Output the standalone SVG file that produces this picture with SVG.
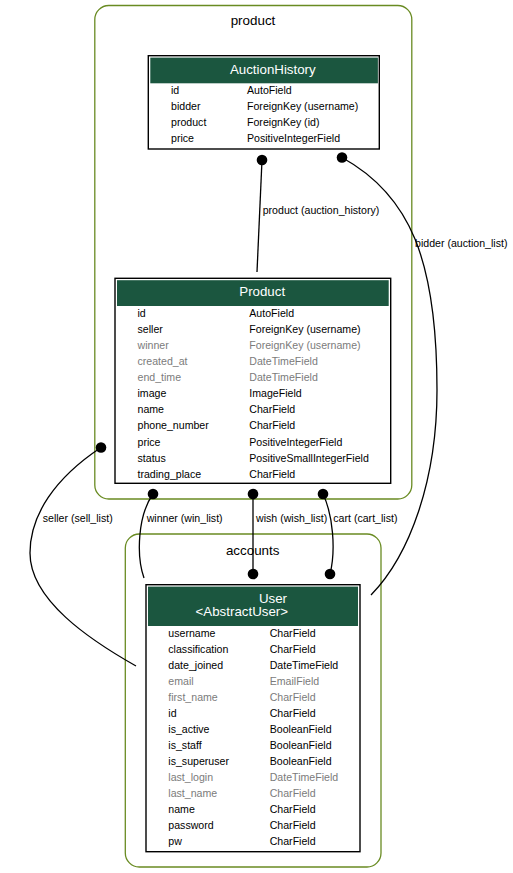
<svg xmlns="http://www.w3.org/2000/svg" width="513" height="873" viewBox="0 0 513 873">
  <style>
    text { font-family: "Liberation Sans", Arial, Helvetica, sans-serif; }
    .cluster { fill: none; stroke: #698b22; stroke-width: 1.3; }
    .clabel { font-size: 13.4px; fill: #000; text-anchor: middle; }
    .tbl { fill: #fff; stroke: #000; stroke-width: 1.4; }
    .hdr { fill: #1b563f; }
    .htxt { font-size: 13.3px; fill: #fff; text-anchor: middle; }
    .f { font-size: 10.6px; fill: #000; }
    .g { font-size: 10.6px; fill: #7b7b7b; }
    .edge { fill: none; stroke: #000; stroke-width: 1.3; }
    .lbl { font-size: 10.6px; fill: #000; }
  </style>
  <defs>
    <marker id="dot" viewBox="0 0 12 12" refX="6" refY="6" markerWidth="12" markerHeight="12" markerUnits="userSpaceOnUse">
      <circle cx="6" cy="6" r="5.3" fill="#000"/>
    </marker>
  </defs>

  <!-- app clusters -->
  <g id="cluster-product">
    <rect class="cluster" x="94.8" y="5.5" width="317" height="493.5" rx="14"/>
    <text class="clabel" x="253" y="25">product</text>
  </g>
  <g id="cluster-accounts">
    <rect class="cluster" x="125.3" y="534" width="255.7" height="333" rx="14"/>
    <text class="clabel" x="252.7" y="554.5">accounts</text>
  </g>

  <!-- AuctionHistory model -->
  <g id="node-auctionhistory">
    <rect class="tbl" x="148.3" y="55.7" width="231" height="93.3"/>
    <rect class="hdr" x="150.3" y="57.6" width="227.6" height="25.7"/>
    <text class="htxt" x="272.8" y="74">AuctionHistory</text>
    <text class="f" x="171" y="93.5">id</text><text class="f" x="247" y="93.5">AutoField</text>
    <text class="f" x="171" y="109.7">bidder</text><text class="f" x="247" y="109.7">ForeignKey (username)</text>
    <text class="f" x="171" y="125.9">product</text><text class="f" x="247" y="125.9">ForeignKey (id)</text>
    <text class="f" x="171" y="142.1">price</text><text class="f" x="247" y="142.1">PositiveIntegerField</text>
  </g>

  <!-- Product model -->
  <g id="node-product">
    <rect class="tbl" x="115" y="278.3" width="275.7" height="205"/>
    <rect class="hdr" x="117" y="280.2" width="271.7" height="25.8"/>
    <text class="htxt" x="262.2" y="296.3">Product</text>
    <text class="f" x="137.5" y="316.7">id</text><text class="f" x="249.3" y="316.7">AutoField</text>
    <text class="f" x="137.5" y="332.8">seller</text><text class="f" x="249.3" y="332.8">ForeignKey (username)</text>
    <text class="g" x="137.5" y="348.9">winner</text><text class="g" x="249.3" y="348.9">ForeignKey (username)</text>
    <text class="g" x="137.5" y="365">created_at</text><text class="g" x="249.3" y="365">DateTimeField</text>
    <text class="g" x="137.5" y="381.1">end_time</text><text class="g" x="249.3" y="381.1">DateTimeField</text>
    <text class="f" x="137.5" y="397.2">image</text><text class="f" x="249.3" y="397.2">ImageField</text>
    <text class="f" x="137.5" y="413.3">name</text><text class="f" x="249.3" y="413.3">CharField</text>
    <text class="f" x="137.5" y="429.4">phone_number</text><text class="f" x="249.3" y="429.4">CharField</text>
    <text class="f" x="137.5" y="445.5">price</text><text class="f" x="249.3" y="445.5">PositiveIntegerField</text>
    <text class="f" x="137.5" y="461.6">status</text><text class="f" x="249.3" y="461.6">PositiveSmallIntegerField</text>
    <text class="f" x="137.5" y="477.7">trading_place</text><text class="f" x="249.3" y="477.7">CharField</text>
  </g>

  <!-- User model -->
  <g id="node-user">
    <rect class="tbl" x="146" y="584.7" width="214" height="267"/>
    <rect class="hdr" x="148" y="586.6" width="210" height="39.4"/>
    <text class="htxt" x="273" y="602.7">User</text>
    <text class="htxt" x="241.8" y="616">&lt;AbstractUser&gt;</text>
    <text class="f" x="168.3" y="636.7">username</text><text class="f" x="269.7" y="636.7">CharField</text>
    <text class="f" x="168.3" y="652.7">classification</text><text class="f" x="269.7" y="652.7">CharField</text>
    <text class="f" x="168.3" y="668.7">date_joined</text><text class="f" x="269.7" y="668.7">DateTimeField</text>
    <text class="g" x="168.3" y="684.8">email</text><text class="g" x="269.7" y="684.8">EmailField</text>
    <text class="g" x="168.3" y="700.8">first_name</text><text class="g" x="269.7" y="700.8">CharField</text>
    <text class="f" x="168.3" y="716.8">id</text><text class="f" x="269.7" y="716.8">CharField</text>
    <text class="f" x="168.3" y="732.8">is_active</text><text class="f" x="269.7" y="732.8">BooleanField</text>
    <text class="f" x="168.3" y="748.8">is_staff</text><text class="f" x="269.7" y="748.8">BooleanField</text>
    <text class="f" x="168.3" y="764.9">is_superuser</text><text class="f" x="269.7" y="764.9">BooleanField</text>
    <text class="g" x="168.3" y="780.9">last_login</text><text class="g" x="269.7" y="780.9">DateTimeField</text>
    <text class="g" x="168.3" y="796.9">last_name</text><text class="g" x="269.7" y="796.9">CharField</text>
    <text class="f" x="168.3" y="812.9">name</text><text class="f" x="269.7" y="812.9">CharField</text>
    <text class="f" x="168.3" y="828.9">password</text><text class="f" x="269.7" y="828.9">CharField</text>
    <text class="f" x="168.3" y="845">pw</text><text class="f" x="269.7" y="845">CharField</text>
  </g>

  <!-- relations -->
  <g id="connectors">
    <path class="edge" d="M262,160 L257,272" marker-start="url(#dot)"/>
    <text class="lbl" x="262.7" y="213.7">product (auction_history)</text>

    <path class="edge" d="M342,157.5 C410,195 437,260 437,390 C437,480 410,555 371,595" marker-start="url(#dot)"/>
    <text class="lbl" x="415" y="247">bidder (auction_list)</text>

    <path class="edge" d="M101,447.5 C55,478 30,515 30,553 C30,600 90,640 136,666" marker-start="url(#dot)"/>
    <text class="lbl" x="42.7" y="522">seller (sell_list)</text>

    <path class="edge" d="M153,494 C138,515 136,555 144,578" marker-start="url(#dot)"/>
    <text class="lbl" x="146.7" y="522">winner (win_list)</text>

    <path class="edge" d="M253,494 L253,574" marker-start="url(#dot)" marker-end="url(#dot)"/>
    <text class="lbl" x="256" y="522">wish (wish_list)</text>

    <path class="edge" d="M323,494 C333,515 336,550 330,574" marker-start="url(#dot)" marker-end="url(#dot)"/>
    <text class="lbl" x="333.3" y="522">cart (cart_list)</text>
  </g>
</svg>
